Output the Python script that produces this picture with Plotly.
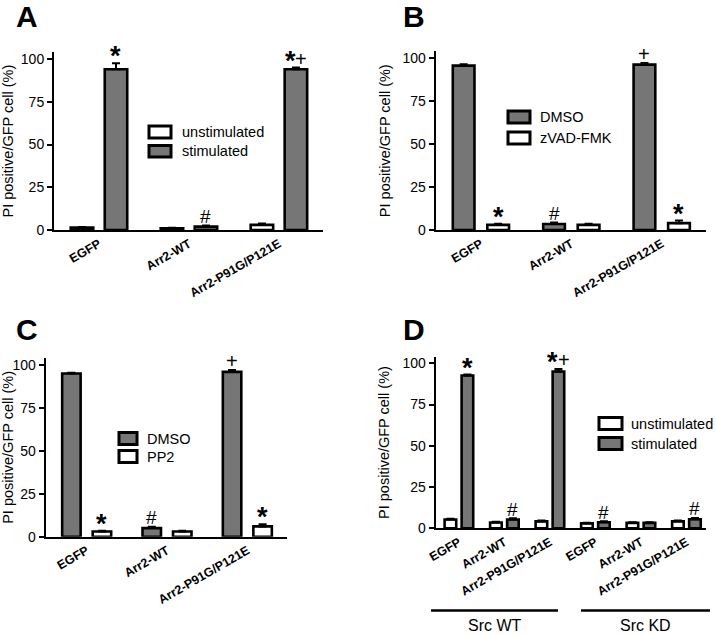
import plotly.graph_objects as go

# ---------------- data ----------------
groups_abc = ["EGFP", "Arr2-WT", "Arr2-P91G/P121E"]
groups_d = ["EGFP", "Arr2-WT", "Arr2-P91G/P121E", "EGFP", "Arr2-WT", "Arr2-P91G/P121E"]
yticks = [0, 25, 50, 75, 100]

# Panel A
a_unstim = [1.5, 1.0, 3.0]
a_unstim_err = [0.3, 0.3, 0.8]
a_stim = [94.0, 2.0, 94.0]
a_stim_err = [3.5, 0.6, 1.0]
a_marks_unstim = ["", "", ""]
a_marks_stim = ["*", "#", "*+"]

# Panel B
b_dmso = [95.7, 3.5, 96.3]
b_dmso_err = [0.8, 0.8, 1.0]
b_zvad = [3.0, 3.0, 4.0]
b_zvad_err = [0.6, 0.6, 1.5]
b_marks_dmso = ["", "#", "+"]
b_marks_zvad = ["*", "", "*"]

# Panel C
c_dmso = [95.0, 5.0, 96.0]
c_dmso_err = [0.5, 0.8, 1.0]
c_pp2 = [3.0, 3.0, 6.0]
c_pp2_err = [0.4, 0.4, 1.2]
c_marks_dmso = ["", "#", "+"]
c_marks_pp2 = ["*", "", "*"]

# Panel D
d_unstim = [5.3, 3.5, 4.2, 3.0, 3.3, 4.2]
d_unstim_err = [0.5, 0.4, 0.5, 0.4, 0.4, 0.6]
d_stim = [92.6, 5.3, 95.0, 3.7, 3.3, 5.5]
d_stim_err = [0.6, 0.8, 1.6, 0.6, 0.4, 0.8]
d_marks_unstim = ["", "", "", "", "", ""]
d_marks_stim = ["*", "#", "*+", "#", "", "#"]
src_labels = ["Src WT", "Src KD"]

# ---------------- style ----------------
FONT = "Arial, Liberation Sans, sans-serif"
GRAY = "#767676"
W, H = 716, 635

fig = go.Figure()


def px_x(p):
    return p / W


def px_y(p):
    return 1 - p / H


# glyph-specific size / vertical tweak so every mark sits ~9 px above its bar
MARK_STYLE = {"*": (27, 7, "bold"), "+": (20, 9, "normal"), "#": (19, 9, "normal")}


def add_marks(xref, yref, x, y, s):
    n = len(s)
    for j, ch in enumerate(s):
        size, ysh, wt = MARK_STYLE[ch]
        xsh = (j - (n - 1) / 2) * 11
        fig.add_annotation(x=x, y=y, xref=xref, yref=yref, text=ch, showarrow=False,
                           yanchor="middle", yshift=ysh, xshift=xsh,
                           font=dict(family=FONT, size=size, color="black", weight=wt))


def add_pair(ax, names, fills, vals, errs, marks, width, half_sep):
    xref = "x" if ax == 1 else f"x{ax}"
    yref = "y" if ax == 1 else f"y{ax}"
    n = len(vals[0])
    xs = list(range(n))
    for k in range(2):
        sign = -1 if k == 0 else 1
        fig.add_trace(go.Bar(
            x=xs, y=vals[k], name=names[k],
            xaxis=xref, yaxis=yref, showlegend=False,
            width=width, offset=sign * half_sep - width / 2,
            marker=dict(color=fills[k], line=dict(color="black", width=2.6)),
            error_y=dict(type="data", array=errs[k], arrayminus=[0] * n,
                         symmetric=False, color="black", thickness=2, width=4),
        ))
    for k in range(2):
        sign = -1 if k == 0 else 1
        for i in range(n):
            if marks[k][i]:
                add_marks(xref, yref, i + sign * half_sep, vals[k][i] + errs[k][i], marks[k][i])


def add_legend(names, fills, sx0, sx1, rows, tx):
    for name, fill, (ry0, ry1) in zip(names, fills, rows):
        fig.add_shape(type="rect", xref="paper", yref="paper",
                      x0=px_x(sx0), x1=px_x(sx1), y0=px_y(ry1), y1=px_y(ry0),
                      fillcolor=fill, line=dict(color="black", width=3))
        fig.add_annotation(x=px_x(tx), y=px_y((ry0 + ry1) / 2), xref="paper", yref="paper",
                           text=name, showarrow=False, xanchor="left", yanchor="middle",
                           font=dict(family=FONT, size=14.5, color="black"))


add_pair(1, ["unstimulated", "stimulated"], ["white", GRAY],
         [a_unstim, a_stim], [a_unstim_err, a_stim_err], [a_marks_unstim, a_marks_stim],
         0.25, 0.189)
add_pair(2, ["DMSO", "zVAD-FMK"], [GRAY, "white"],
         [b_dmso, b_zvad], [b_dmso_err, b_zvad_err], [b_marks_dmso, b_marks_zvad],
         0.24, 0.191)
add_pair(3, ["DMSO", "PP2"], [GRAY, "white"],
         [c_dmso, c_pp2], [c_dmso_err, c_pp2_err], [c_marks_dmso, c_marks_pp2],
         0.23, 0.19)
add_pair(4, ["unstimulated", "stimulated"], ["white", GRAY],
         [d_unstim, d_stim], [d_unstim_err, d_stim_err], [d_marks_unstim, d_marks_stim],
         0.255, 0.187)

add_legend(["unstimulated", "stimulated"], ["white", GRAY], 149, 171,
           [(126, 138), (145.5, 157)], 180)
add_legend(["DMSO", "zVAD-FMK"], [GRAY, "white"], 508, 530,
           [(111, 123), (132, 144)], 538)
add_legend(["DMSO", "PP2"], [GRAY, "white"], 119, 137,
           [(432.5, 444.5), (450.5, 462.5)], 145)
add_legend(["unstimulated", "stimulated"], ["white", GRAY], 599, 622,
           [(417.5, 429.5), (437.5, 449.5)], 629)

# axis domains from pixel geometry
panels = {
    1: dict(x=(54, 323), y=(230, 52.2), xr=[-0.5, 2.49], labels=groups_abc, standoff=14),
    2: dict(x=(435.7, 706), y=(230, 51.4), xr=[-0.5, 2.49], labels=groups_abc, standoff=8),
    3: dict(x=(45.7, 286.7), y=(536.7, 358.1), xr=[-0.51, 2.49], labels=groups_abc, standoff=7),
    4: dict(x=(435.7, 706), y=(528.3, 356.7), xr=[-0.51, 5.43], labels=groups_d, standoff=9),
}

axis_common = dict(showline=True, linecolor="black", linewidth=2, showgrid=False,
                   zeroline=False, mirror=False, automargin=False)

layout_axes = {}
for k, p in panels.items():
    xs = "xaxis" if k == 1 else f"xaxis{k}"
    ys = "yaxis" if k == 1 else f"yaxis{k}"
    xa = "x" if k == 1 else f"x{k}"
    ya = "y" if k == 1 else f"y{k}"
    n = len(p["labels"])
    layout_axes[xs] = dict(
        domain=[px_x(p["x"][0]), px_x(p["x"][1])], anchor=ya,
        range=p["xr"], tickmode="array", tickvals=list(range(n)), ticktext=p["labels"],
        tickangle=-30, ticks="", tickfont=dict(family=FONT, size=12.5, color="black", weight="bold"),
        **axis_common)
    layout_axes[ys] = dict(
        domain=[px_y(p["y"][0]), px_y(p["y"][1])], anchor=xa,
        range=[0, 104], tickmode="array", tickvals=yticks,
        ticks="outside", ticklen=5, tickwidth=2, tickcolor="black",
        tickfont=dict(family=FONT, size=14, color="black"),
        title=dict(text="PI positive/GFP cell (%)", standoff=p["standoff"],
                   font=dict(family=FONT, size=14.5, color="black")),
        **axis_common)

fig.update_layout(
    width=W, height=H, margin=dict(l=0, r=0, t=0, b=0, autoexpand=False),
    paper_bgcolor="white", plot_bgcolor="white",
    barmode="overlay", showlegend=False,
    font=dict(family=FONT, color="black"),
    **layout_axes,
)

# panel letters
for letter, (cx, cy) in zip("ABCD", [(27, 16), (414, 16), (27, 329), (414, 329)]):
    fig.add_annotation(x=px_x(cx), y=px_y(cy), xref="paper", yref="paper", text=letter,
                       showarrow=False, xanchor="center", yanchor="middle",
                       font=dict(family=FONT, size=30, color="black", weight="bold"))

# Src WT / Src KD group bars under panel D
for (x0, x1), lab in zip([(431, 558), (581, 710)], src_labels):
    fig.add_shape(type="line", xref="paper", yref="paper",
                  x0=px_x(x0), x1=px_x(x1), y0=px_y(610.5), y1=px_y(610.5),
                  line=dict(color="black", width=2.5))
    fig.add_annotation(x=px_x((x0 + x1) / 2), y=px_y(625), xref="paper", yref="paper",
                       text=lab, showarrow=False, xanchor="center", yanchor="middle",
                       font=dict(family=FONT, size=16, color="black"))

# remove the browser's default page margin so the 716x635 figure fills the window
fig.write_html("out.html", config={"displayModeBar": False},
               post_script="document.body.style.margin='0';document.body.style.overflow='hidden';")
